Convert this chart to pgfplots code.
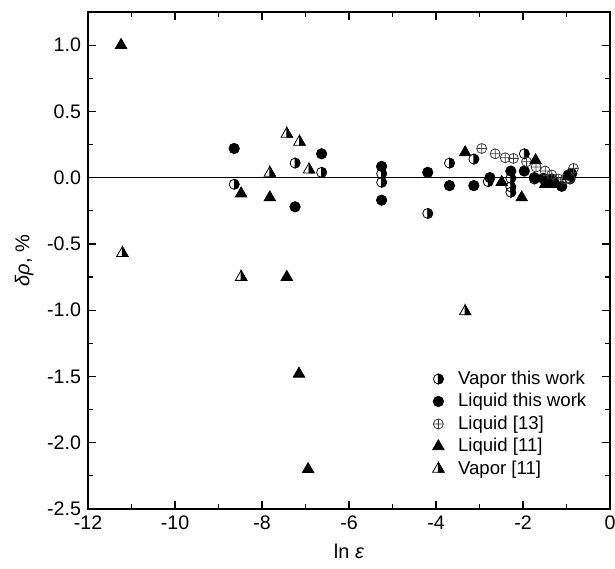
\documentclass[border=0pt]{standalone}
\usepackage{fontspec}
\setmainfont{Liberation Sans}
\usepackage{pgfplots}
\pgfplotsset{compat=1.18}

% half-filled marks: right half black
\pgfdeclareplotmark{halfo}{%
  \pgfpathcircle{\pgfpointorigin}{\pgfplotmarksize}\pgfusepathqstroke
  \pgfpathmoveto{\pgfqpoint{0pt}{\pgfplotmarksize}}%
  \pgfpatharc{90}{-90}{\pgfplotmarksize}%
  \pgfpathclose\pgfusepathqfillstroke
}
\pgfdeclareplotmark{halftri}{%
  \pgfpathmoveto{\pgfqpoint{0pt}{\pgfplotmarksize}}%
  \pgfpathlineto{\pgfqpoint{-0.866\pgfplotmarksize}{-0.5\pgfplotmarksize}}%
  \pgfpathlineto{\pgfqpoint{0.866\pgfplotmarksize}{-0.5\pgfplotmarksize}}%
  \pgfpathclose\pgfusepathqstroke
  \pgfpathmoveto{\pgfqpoint{0pt}{\pgfplotmarksize}}%
  \pgfpathlineto{\pgfqpoint{0.866\pgfplotmarksize}{-0.5\pgfplotmarksize}}%
  \pgfpathlineto{\pgfqpoint{0pt}{-0.5\pgfplotmarksize}}%
  \pgfpathclose\pgfusepathqfillstroke
}

\begin{document}
\begin{tikzpicture}
\begin{axis}[
    scale only axis,
    width=261pt, height=248.5pt,
    xmin=-12, xmax=0,
    ymin=-2.5, ymax=1.25,
    xtick={-12,-10,...,0},
    ytick={-2.5,-2,...,1},
    minor x tick num=1,
    minor y tick num=1,
    tick align=inside,
    major tick length=4pt,
    minor tick length=2.5pt,
    axis line style={line width=0.6pt},
    every tick/.style={black, line width=0.6pt},
    tick label style={font=\fontsize{9.8}{11}\selectfont},
    label style={font=\fontsize{10}{12}\selectfont},
    /pgf/number format/assume math mode=true,
    yticklabel style={/pgf/number format/fixed, /pgf/number format/fixed zerofill, /pgf/number format/precision=1},
    xlabel={ln \textit{ε}},
    ylabel={\textit{δρ}, \%},
    legend style={at={(0.648,0.295)}, anchor=north west, draw=none, fill=none,
        font=\fontsize{9.3}{11}\selectfont, row sep=-1pt,
        /tikz/every odd column/.append style={column sep=5pt}},
    legend cell align=left,
]
\addplot[black, line width=0.5pt, forget plot] coordinates {(-12,0) (0,0)};

\addplot[only marks, mark=halfo, mark size=2.5pt, mark options={draw=black, fill=black, line width=0.4pt}] coordinates {
(-8.64,-0.05) (-7.24,0.11) (-6.63,0.04) (-5.25,0.03) (-5.25,-0.035)
(-4.19,-0.27) (-3.69,0.11) (-3.13,0.14) (-2.80,-0.03) (-2.28,-0.005)
(-2.28,-0.07) (-2.28,-0.11) (-1.97,0.18) (-1.74,-0.01) (-1.50,-0.02)
(-0.92,-0.01)
};
\addlegendentry{Vapor this work}

\addplot[only marks, mark=*, mark size=2.6pt, mark options={draw=black, fill=black}] coordinates {
(-8.64,0.22) (-7.24,-0.22) (-6.63,0.18) (-5.25,0.085) (-5.25,-0.17)
(-4.19,0.04) (-3.69,-0.06) (-3.13,-0.06) (-2.76,0.0) (-2.28,0.05)
(-1.97,0.05) (-1.74,0.0) (-1.53,-0.005) (-1.34,-0.01) (-1.11,-0.065)
(-0.96,0.02) (-0.88,0.03)
};
\addlegendentry{Liquid this work}

\addplot[only marks, mark=oplus, mark size=2.5pt, mark options={draw=black!75, fill=white, line width=0.4pt}] coordinates {
(-2.95,0.22) (-2.64,0.18) (-2.41,0.15) (-2.22,0.145) (-1.92,0.12)
(-1.70,0.08) (-1.49,0.05) (-1.34,0.02) (-1.19,-0.01) (-1.03,-0.01)
(-0.92,-0.005) (-0.84,0.07)
};
\addlegendentry{Liquid [13]}

\addplot[only marks, mark=triangle*, mark size=3.3pt, mark options={draw=black, fill=black}] coordinates {
(-11.24,1.0) (-8.48,-0.12) (-7.82,-0.15) (-7.43,-0.75) (-7.15,-1.48)
(-6.94,-2.20) (-3.33,0.19) (-2.49,-0.035) (-2.03,-0.15) (-1.71,0.13)
(-1.49,-0.05) (-1.38,-0.05) (-1.23,-0.05) (-0.96,0.01)
};
\addlegendentry{Liquid [11]}

\addplot[only marks, mark=halftri, mark size=3.3pt, mark options={draw=black, fill=black, line width=0.4pt}] coordinates {
(-11.21,-0.57) (-8.48,-0.75) (-7.82,0.035) (-7.43,0.33) (-7.14,0.27)
(-6.92,0.06) (-3.33,-1.01)
};
\addlegendentry{Vapor [11]}
\end{axis}
\pgfresetboundingbox
\path[use as bounding box] ([xshift=-44pt,yshift=-30pt]current axis.south west)
    rectangle ([xshift=2.5pt,yshift=6pt]current axis.north east);
\end{tikzpicture}
\end{document}
